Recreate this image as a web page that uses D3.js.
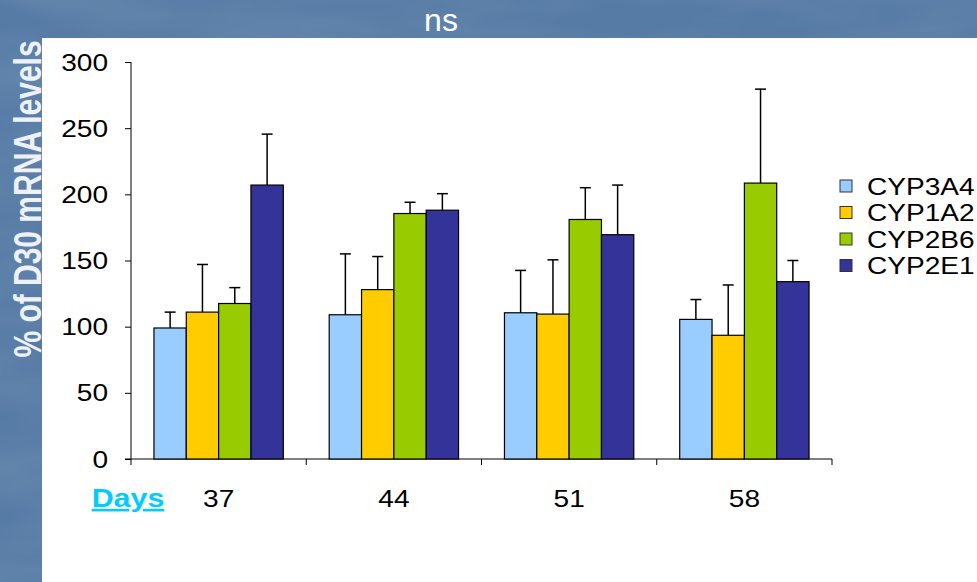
<!DOCTYPE html>
<html>
<head>
<meta charset="utf-8">
<script src="https://cdn.jsdelivr.net/npm/d3@7"></script>
<style>
  html, body { margin: 0; padding: 0; background: #5a7fa9; }
  svg { display: block; }
  text { font-family: "Liberation Sans", Arial, sans-serif; }
</style>
</head>
<body>
<svg id="chart" width="977" height="582"></svg>
<script>
// Sampling days and gene series
const days = ["37", "44", "51", "58"];
const genes = ["CYP3A4", "CYP1A2", "CYP2B6", "CYP2E1"];
const geneColors = ["#99ccff", "#ffcc00", "#99cc00", "#333399"];

// Mean expression (% of D30) per gene, one value per day
const cyp3a4 = [99, 109, 110.5, 105.5];
const cyp1a2 = [111, 128, 109.5, 93.5];
const cyp2b6 = [117.5, 185.5, 181, 208.5];
const cyp2e1 = [207, 188, 169.5, 134];

// Upper error (SD) per gene, one value per day
const cyp3a4Err = [12, 46, 32, 15];
const cyp1a2Err = [36, 25, 41, 38];
const cyp2b6Err = [12, 8.5, 24, 71];
const cyp2e1Err = [38.5, 12.5, 37.5, 16];

const yTicks = [0, 50, 100, 150, 200, 250, 300];

const means = [cyp3a4, cyp1a2, cyp2b6, cyp2e1];
const errs = [cyp3a4Err, cyp1a2Err, cyp2b6Err, cyp2e1Err];
const rows = [];
days.forEach((d, di) => genes.forEach((g, gi) => {
  rows.push({ day: d, gene: g, value: means[gi][di], err: errs[gi][di], color: geneColors[gi] });
}));

const svg = d3.select("#chart");

// Slide background with a soft mottled texture
const defs = svg.append("defs");
const f = defs.append("filter").attr("id", "mottle").attr("x", 0).attr("y", 0).attr("width", 1).attr("height", 1);
f.append("feTurbulence").attr("type", "fractalNoise").attr("baseFrequency", "0.006 0.02").attr("numOctaves", 3).attr("seed", 7).attr("result", "n");
f.append("feColorMatrix").attr("in", "n").attr("type", "matrix")
  .attr("values", "0 0 0 0 1  0 0 0 0 1  0 0 0 0 1  0 0 0 0.16 -0.05");
svg.append("rect").attr("width", 977).attr("height", 582).attr("fill", "#567ba5");
svg.append("rect").attr("width", 977).attr("height", 582).attr("filter", "url(#mottle)");

// White chart panel
svg.append("rect").attr("x", 42).attr("y", 38).attr("width", 935).attr("height", 544).attr("fill", "#ffffff");

const sx = 1.17; // horizontal text stretch

const x0 = d3.scaleBand().domain(days).range([131, 832]);
const bw = x0.bandwidth();
const x1 = d3.scaleBand().domain(genes).range([bw * 0.131, bw * 0.869]);
const y = d3.scaleLinear().domain([0, 300]).range([459, 62]);

// Title
svg.append("text").attr("x", 441).attr("y", 31).attr("text-anchor", "middle")
  .attr("fill", "#ffffff").attr("font-size", 32).text("ns");

// Y axis title
svg.append("text").attr("transform", `translate(41,199) scale(1.3,1) rotate(-90)`)
  .attr("text-anchor", "middle").attr("fill", "#eef2f7").attr("font-size", 30)
  .attr("font-weight", "bold").text("% of D30 mRNA levels");

// Y axis
const yAxis = svg.append("g").attr("transform", "translate(131,0)")
  .call(d3.axisLeft(y).tickValues(yTicks).tickSize(6).tickFormat(""));
yAxis.select(".domain").attr("d", `M0,${y(300)}V${y(0)}`).attr("stroke", "#000");
yAxis.selectAll(".tick line").attr("stroke", "#000");
yAxis.selectAll(".tick").append("text")
  .attr("transform", "translate(-23,8) scale(" + sx + ",1)")
  .attr("text-anchor", "end").attr("fill", "#000").attr("font-size", 24)
  .text(d => d);

// X axis with boundary ticks
const xAxis = svg.append("g").attr("transform", `translate(0,${y(0)})`);
xAxis.append("line").attr("x1", 125).attr("x2", 832).attr("stroke", "#000");
const bounds = days.map(d => x0(d)).concat([x0(days[days.length - 1]) + bw]);
xAxis.selectAll("line.b").data(bounds).join("line").attr("class", "b")
  .attr("x1", d => d).attr("x2", d => d).attr("y1", 0).attr("y2", 6).attr("stroke", "#000");
xAxis.selectAll("text.day").data(days).join("text").attr("class", "day")
  .attr("transform", d => `translate(${x0(d) + bw / 2},48) scale(${sx},1)`)
  .attr("text-anchor", "middle").attr("fill", "#000").attr("font-size", 24).text(d => d);

// "Days" label
svg.append("text").attr("transform", `translate(128,507) scale(${sx},1)`)
  .attr("text-anchor", "middle").attr("fill", "#00ccff").attr("font-size", 26)
  .attr("font-weight", "bold").attr("text-decoration", "underline").text("Days");

// Bars
const g = svg.append("g");
g.selectAll("rect.bar").data(rows).join("rect").attr("class", "bar")
  .attr("x", d => x0(d.day) + x1(d.gene))
  .attr("y", d => y(d.value))
  .attr("width", x1.bandwidth())
  .attr("height", d => y(0) - y(d.value))
  .attr("fill", d => d.color).attr("stroke", "#000").attr("stroke-width", 1.2);

// Upper error bars
const eb = svg.append("g").attr("stroke", "#000").attr("stroke-width", 1.5);
eb.selectAll("line.v").data(rows).join("line").attr("class", "v")
  .attr("x1", d => x0(d.day) + x1(d.gene) + x1.bandwidth() / 2)
  .attr("x2", d => x0(d.day) + x1(d.gene) + x1.bandwidth() / 2)
  .attr("y1", d => y(d.value)).attr("y2", d => y(d.value + d.err));
eb.selectAll("line.c").data(rows).join("line").attr("class", "c")
  .attr("x1", d => x0(d.day) + x1(d.gene) + x1.bandwidth() / 2 - 5.5)
  .attr("x2", d => x0(d.day) + x1(d.gene) + x1.bandwidth() / 2 + 5.5)
  .attr("y1", d => y(d.value + d.err)).attr("y2", d => y(d.value + d.err));

// Legend
const lg = svg.append("g").selectAll("g").data(genes).join("g")
  .attr("transform", (d, i) => `translate(840,${186 + i * 26.5})`);
lg.append("rect").attr("x", 0).attr("y", -6).attr("width", 12).attr("height", 12)
  .attr("fill", (d, i) => geneColors[i]).attr("stroke", "#333").attr("stroke-width", 1);
lg.append("text").attr("transform", `translate(27,8.5) scale(${sx},1)`)
  .attr("fill", "#000").attr("font-size", 24).text(d => d);
</script>
</body>
</html>
